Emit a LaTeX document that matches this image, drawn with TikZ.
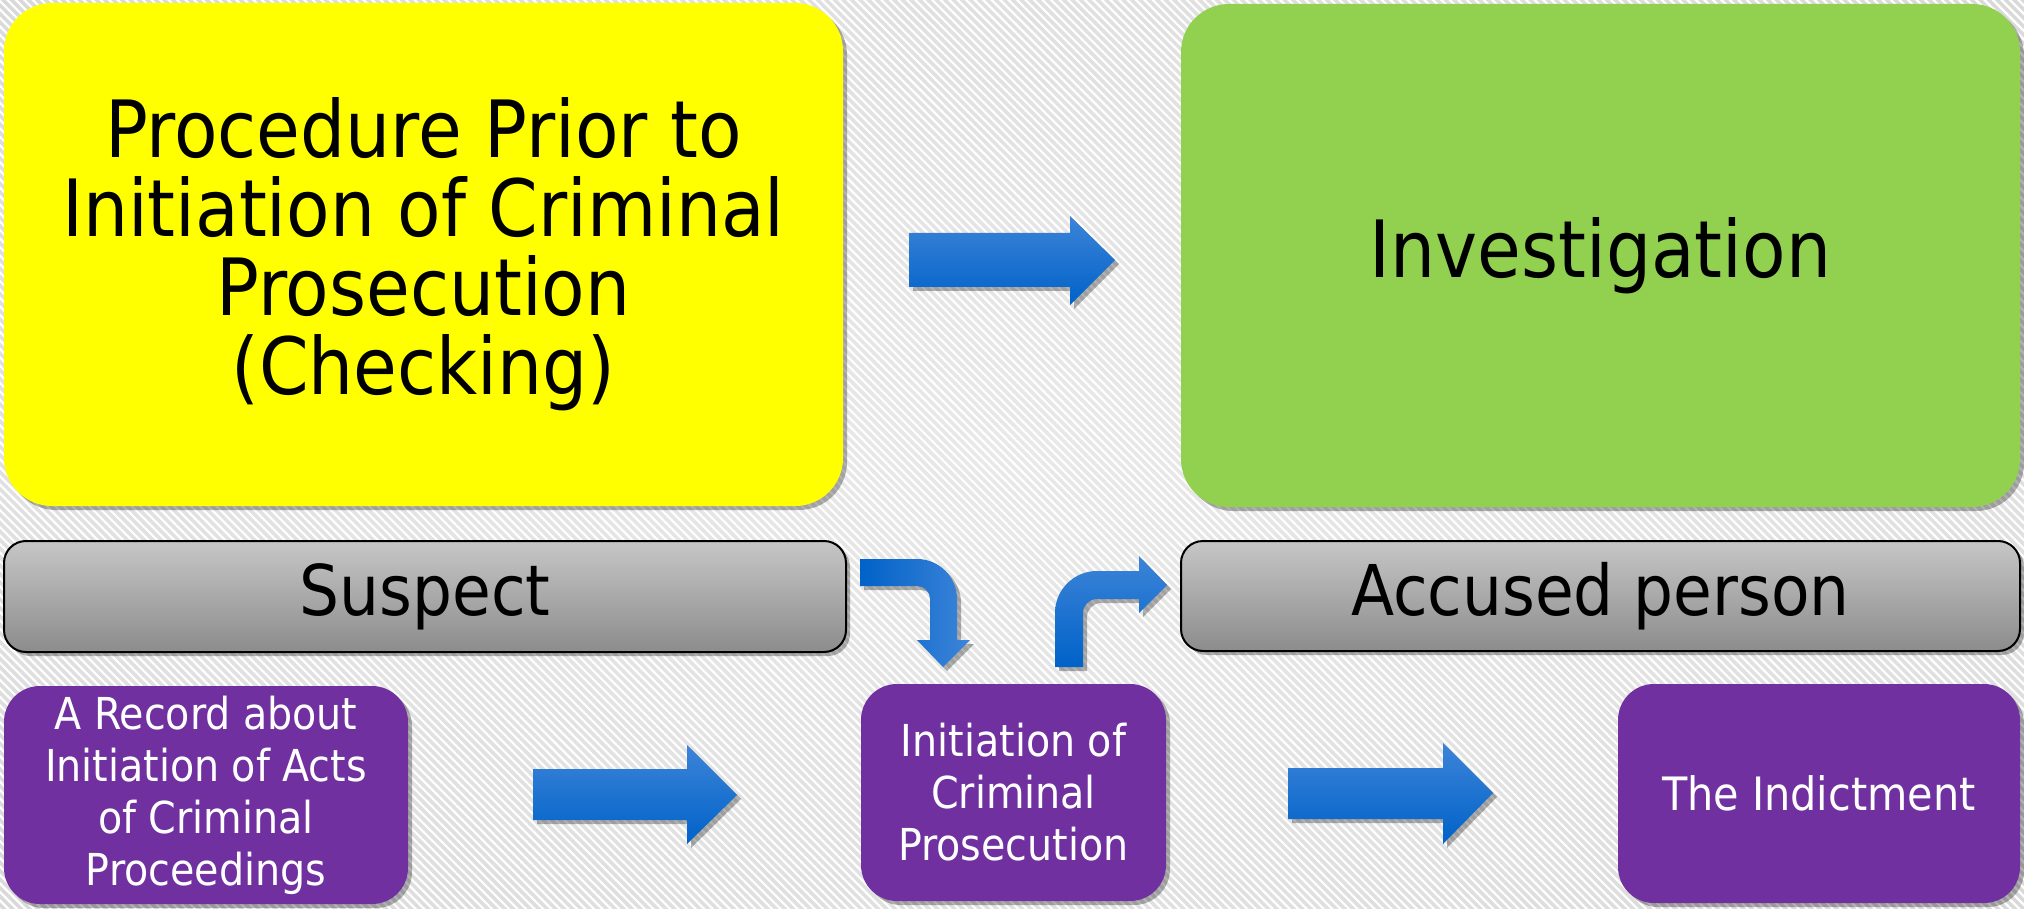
\documentclass[tikz,border=0pt]{standalone}
\usepackage{fontspec}
\setmainfont{DejaVu Sans Condensed}
\usetikzlibrary{shadows,patterns.meta}
\definecolor{ylw}{HTML}{FFFF00}
\definecolor{grn}{HTML}{92D050}
\definecolor{prp}{HTML}{7030A0}
\definecolor{gtop}{HTML}{C6C6C6}
\definecolor{gbot}{HTML}{8C8C8C}
\definecolor{blight}{HTML}{3D84D8}
\definecolor{bdark}{HTML}{0062C8}
\definecolor{bgA}{HTML}{E8E8E8}
\definecolor{bgM}{HTML}{E0E0E0}
\definecolor{bgC}{HTML}{CFCFCF}
\definecolor{bgB}{HTML}{BDBDBD}
\pgfdeclareradialshading{bgshade}{\pgfpoint{0bp}{0bp}}{color(0bp)=(bgA); color(25bp)=(bgM); color(50bp)=(bgC); color(72bp)=(bgB)}
\begin{document}
\begin{tikzpicture}[x=1pt,y=-1pt,
  softshadow/.style={drop shadow={shadow xshift=4pt,shadow yshift=-4pt,opacity=0.3,fill=black}},
  bigbox/.style={rectangle,rounded corners=48pt,inner sep=0pt,align=center,softshadow,
     font=\fontsize{79}{79}\selectfont},
  graybox/.style={rectangle,rounded corners=22pt,inner sep=0pt,draw=black,line width=2pt,
     top color=gtop,bottom color=gbot,align=center,softshadow,font=\fontsize{70}{70}\selectfont},
  purplebox/.style={rectangle,rounded corners=36pt,inner sep=0pt,fill=prp,text=white,
     align=center,softshadow,font=\fontsize{44}{52}\selectfont},
  blockarrow/.style={top color=blight,bottom color=bdark,softshadow},
  sidearrow/.style={left color=bdark,right color=blight,softshadow}]
\useasboundingbox (0,0) rectangle (2024,909);
% background
\shade[shading=bgshade] (0,0) rectangle (2024,909);
\fill[pattern={Lines[angle=-45,distance=6pt,line width=2.2pt]},pattern color=white,fill opacity=0.5]
  (0,0) rectangle (2024,909);
% boxes
\node[bigbox,fill=ylw,minimum width=839pt,minimum height=503pt] (pre) at (423.5,254.5)
  {Procedure Prior to\\Initiation of Criminal\\Prosecution\\(Checking)};
\node[bigbox,fill=grn,minimum width=839pt,minimum height=503pt] (inv) at (1600.5,255.5)
  {Investigation};
\node[graybox,minimum width=842pt,minimum height=111pt] (sus) at (425,596.5) {Suspect};
\node[graybox,minimum width=839pt,minimum height=110pt] (acc) at (1600.5,596) {Accused person};
\node[purplebox,minimum width=404pt,minimum height=218pt] (rec) at (206,795)
  {A Record about\\Initiation of Acts\\of Criminal\\Proceedings};
\node[purplebox,minimum width=305pt,minimum height=217pt] (ini) at (1013.5,792.5)
  {Initiation of\\Criminal\\Prosecution};
\node[purplebox,minimum width=402pt,minimum height=219pt,font=\fontsize{46}{52}\selectfont] (ind) at (1819,793.5)
  {The Indictment};
% straight block arrows
\shade[blockarrow] (909,233) -- (1070,233) -- (1070,216) -- (1115,260) -- (1070,305) -- (1070,287) -- (909,287) -- cycle;
\shade[blockarrow] (533,769) -- (687,769) -- (687,745) -- (737,795) -- (687,844) -- (687,820) -- (533,820) -- cycle;
\shade[blockarrow] (1288,768) -- (1443,768) -- (1443,743) -- (1493,793) -- (1443,844) -- (1443,819) -- (1288,819) -- cycle;
% bent arrow: suspect -> initiation
\shade[sidearrow] (860,559) -- (917,559) arc[start angle=-90,end angle=0,radius=40]
  -- (957,640) -- (970,640) -- (943,667) -- (917,640) -- (930,640) -- (930,599)
  arc[start angle=0,end angle=-90,radius=13] -- (860,586) -- cycle;
% bent arrow: initiation -> accused
\shade[blockarrow] (1055,667) -- (1055,613) arc[start angle=180,end angle=270,radius=42]
  -- (1139,571) -- (1139,556) -- (1167,585) -- (1139,613) -- (1139,599) -- (1097,599)
  arc[start angle=270,end angle=180,radius=14] -- (1083,667) -- cycle;
\end{tikzpicture}
\end{document}
